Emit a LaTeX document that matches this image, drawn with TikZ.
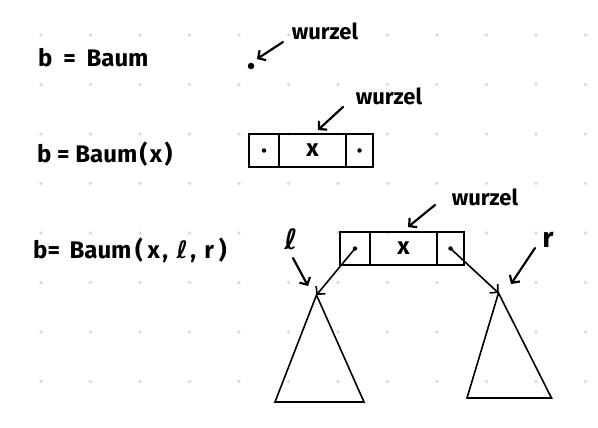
\documentclass[tikz,border=0pt]{standalone}
\usepackage{fontspec}
\setmainfont{Fira Sans}
\newfontfamily\dejavu{DejaVu Sans}
\usetikzlibrary{arrows.meta}
\newcommand{\ellsym}{{\dejavu\bfseries ℓ}}
\begin{document}
\begin{tikzpicture}[x=1pt,y=-1pt,
  ink/.style={line width=2.2pt, line cap=round, line join=round},
  hand/.style={font=\fontsize{24}{26}\selectfont\bfseries, inner sep=0pt, anchor=base west},
  lbl/.style={font=\fontsize{22}{24}\selectfont\bfseries, inner sep=0pt},
  cell/.style={draw, line width=1.7pt, minimum height=33pt, inner sep=0pt},
  ptr/.style={circle, fill, inner sep=0pt, minimum size=4.5pt},
  bigdot/.style={circle, fill, inner sep=0pt, minimum size=6.5pt},
  xval/.style={font=\fontsize{24}{26}\selectfont\bfseries, inner sep=0pt},
  arr/.style={ink, -{Straight Barb[length=5.5pt,width=12pt]}},
  tri/.style={line width=1.6pt, line join=miter}
]
\useasboundingbox (0,0) rectangle (598,428);
\fill[white] (0,0) rectangle (598,428);
% grid of dots
\foreach \i in {0,...,11} \foreach \j in {0,...,7}
  \fill[black!14] (41+49.5*\i, 35+49.5*\j) circle (1.9pt);

% left column formulas
\node[hand] (f1) at (38,67) {b\hspace{0.45em}=\hspace{0.45em}Baum};
\node[hand] (f2) at (37,163) {b = Baum\hspace{0.1em}(\hspace{0.1em}x\hspace{0.1em})};
\node[hand] (f3) at (33,258) {b=\hspace{0.4em}Baum\hspace{0.15em}(\hspace{0.2em}x\hspace{0.1em},\hspace{0.35em}\ellsym\hspace{0.1em},\hspace{0.35em}r\hspace{0.2em})};

% row 1: empty tree
\node[bigdot] (root1) at (251,66) {};
\node[lbl] (w1) at (325,31) {wurzel};
\coordinate (w1s) at (283,42);
\coordinate (w1e) at (257,59);
\draw[arr] (w1s) -- (w1e);

% row 2: single node
\node[cell, minimum width=30pt] (a1) at (264,150.5) {};
\node[cell, minimum width=67pt] (a2) at (312.5,150.5) {};
\node[cell, minimum width=27pt] (a3) at (359.5,150.5) {};
\node[ptr] (ap1) at (a1.center) {};
\node[ptr] (ap3) at (a3.center) {};
\node[xval] (ax) at (a2.center) {x};
\node[lbl] (w2) at (389,96) {wurzel};
\coordinate (w2s) at (343,107);
\coordinate (w2e) at (318,130);
\draw[arr] (w2s) -- (w2e);

% row 3: node with subtrees
\node[cell, minimum width=30pt] (b1) at (355,248.5) {};
\node[cell, minimum width=67pt] (b2) at (403.5,248.5) {};
\node[cell, minimum width=27pt] (b3) at (450.5,248.5) {};
\node[ptr] (bp1) at (b1.center) {};
\node[ptr] (bp3) at (b3.center) {};
\node[xval] (bx) at (b2.center) {x};
\node[lbl] (w3) at (485,197) {wurzel};
\coordinate (w3s) at (435,205);
\coordinate (w3e) at (408,227);
\draw[arr] (w3s) -- (w3e);

% subtrees
\coordinate (lt) at (316.5,295);
\coordinate (lbl1) at (275,402);
\coordinate (lbr) at (364,402);
\draw[tri] (lt) -- (lbl1) -- (lbr) -- cycle;
\coordinate (rt) at (498.5,293);
\coordinate (rbl) at (467,398);
\coordinate (rbr) at (551.5,398);
\draw[tri] (rt) -- (rbl) -- (rbr) -- cycle;

% pointers
\draw[arr, line width=1.6pt] (bp1.center) -- (lt);
\draw[arr, line width=1.6pt] (bp3.center) -- (rt);

% labels l and r
\node[font=\fontsize{28}{30}\selectfont, inner sep=0pt] (ll) at (291,239) {\ellsym};
\coordinate (lls) at (293,258);
\coordinate (lle) at (308,286);
\draw[arr] (lls) -- (lle);
\node[font=\fontsize{28}{30}\selectfont\bfseries, inner sep=0pt] (rr) at (548,240) {r};
\coordinate (rrs) at (535,248);
\coordinate (rre) at (511,284);
\draw[arr] (rrs) -- (rre);
\end{tikzpicture}
\end{document}
